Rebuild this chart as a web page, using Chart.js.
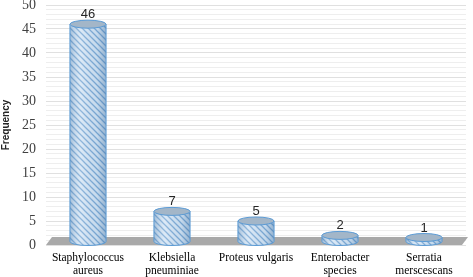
<!DOCTYPE html>
<html>
<head>
<meta charset="utf-8">
<script src="https://cdn.jsdelivr.net/npm/chart.js@4.4.1/dist/chart.umd.min.js"></script>
<style>
  html, body { margin: 0; padding: 0; background: #fff; }
  #wrap { width: 473px; height: 277px; }
</style>
</head>
<body>
<div id="wrap"><canvas id="bacteriaChart" width="473" height="277"></canvas></div>
<script>
  // 分離菌の頻度
  const categories = [
    ['Staphylococcus', 'aureus'],
    ['Klebsiella', 'pneuminiae'],
    ['Proteus vulgaris'],
    ['Enterobacter', 'species'],
    ['Serratia', 'merscescans']
  ];
  const frequency = [46, 7, 5, 2, 1];
  const yTicks = [0, 5, 10, 15, 20, 25, 30, 35, 40, 45, 50];

  // 斜線パターン
  function makeHatch() {
    const c = document.createElement('canvas');
    c.width = 6; c.height = 6;
    const g = c.getContext('2d');
    g.fillStyle = '#d6e6f5';
    g.fillRect(0, 0, 6, 6);
    g.strokeStyle = '#7eabd6';
    g.lineWidth = 1.3;
    g.beginPath();
    g.moveTo(0, 0); g.lineTo(6, 6);
    g.moveTo(-3, 3); g.lineTo(3, 9);
    g.moveTo(3, -3); g.lineTo(9, 3);
    g.stroke();
    return g.createPattern(c, 'repeat');
  }
  const hatch = makeHatch();
  const ry = 4; // 楕円の縦半径

  // 床面
  const floorPlugin = {
    id: 'floor',
    beforeDatasetsDraw(chart) {
      const ctx = chart.ctx;
      const a = chart.chartArea;
      const y0 = chart.scales.y.getPixelForValue(0);
      ctx.save();
      ctx.fillStyle = '#a9a9a9';
      ctx.beginPath();
      ctx.moveTo(a.left + 6, y0 - 8);
      ctx.lineTo(a.right + 2, y0 - 8);
      ctx.lineTo(a.right - 4, y0);
      ctx.lineTo(a.left, y0);
      ctx.closePath();
      ctx.fill();
      ctx.restore();
    }
  };

  // 円柱
  const cylinderPlugin = {
    id: 'cylinder',
    afterDatasetsDraw(chart) {
      const ctx = chart.ctx;
      const meta = chart.getDatasetMeta(0);
      meta.data.forEach((bar, i) => {
        const x = bar.x, base = bar.base - 3;
        const top = Math.min(bar.y, base - 4);
        const w = bar.width, rx = w / 2;
        ctx.save();
        // 胴体
        ctx.beginPath();
        ctx.moveTo(x - rx, top);
        ctx.lineTo(x - rx, base);
        ctx.ellipse(x, base, rx, ry, 0, Math.PI, 0, true);
        ctx.lineTo(x + rx, top);
        ctx.closePath();
        ctx.fillStyle = hatch;
        ctx.fill();
        const grad = ctx.createLinearGradient(x - rx, 0, x + rx, 0);
        grad.addColorStop(0, 'rgba(60,110,160,0.35)');
        grad.addColorStop(0.3, 'rgba(255,255,255,0.15)');
        grad.addColorStop(0.75, 'rgba(60,110,160,0.1)');
        grad.addColorStop(1, 'rgba(50,100,150,0.4)');
        ctx.fillStyle = grad;
        ctx.fill();
        ctx.strokeStyle = '#5b9bd5';
        ctx.lineWidth = 1;
        ctx.stroke();
        // 上面
        ctx.beginPath();
        ctx.ellipse(x, top, rx, ry, 0, 0, Math.PI * 2);
        ctx.fillStyle = '#a3b6c8';
        ctx.fill();
        ctx.strokeStyle = '#5b9bd5';
        ctx.stroke();
        // 値ラベル
        ctx.fillStyle = '#262626';
        ctx.font = '13px "Liberation Sans", Arial, sans-serif';
        ctx.textAlign = 'center';
        ctx.textBaseline = 'bottom';
        ctx.fillText(String(frequency[i]), x, top - ry + 1);
        ctx.restore();
      });
    }
  };

  const serif = '"Times New Roman", "Liberation Serif", "DejaVu Serif", serif';

  const ctx = document.getElementById('bacteriaChart').getContext('2d');
  const bacteriaChart = new Chart(ctx, {
    type: 'bar',
    data: {
      labels: categories,
      datasets: [{
        label: 'Frequency',
        data: frequency,
        backgroundColor: 'rgba(0,0,0,0)',
        borderWidth: 0,
        barPercentage: 0.43,
        categoryPercentage: 1
      }]
    },
    options: {
      responsive: false,
      animation: false,
      layout: { padding: { top: 5, right: 7, left: 0, bottom: 0 } },
      plugins: {
        legend: { display: false },
        tooltip: { enabled: false }
      },
      scales: {
        x: {
          grid: { display: false },
          border: { display: false },
          ticks: {
            color: '#000',
            font: { family: serif, size: 11.5, lineHeight: 1.15 },
            maxRotation: 0,
            autoSkip: false,
            padding: -2
          },
          afterFit(s) { s.height = 32; s.paddingLeft = 0; s.paddingRight = 0; }
        },
        y: {
          min: 0,
          max: 50,
          afterBuildTicks(s) {
            // 1刻みの目盛線（薄い）
            const t = [];
            for (let v = 0; v <= 50; v++) t.push({ value: v });
            s.ticks = t;
          },
          grid: {
            color(c) { return c.tick && c.tick.value % 5 === 0 ? '#e0e0e0' : '#eeeeee'; },
            drawTicks: false
          },
          border: { display: false },
          ticks: {
            color: '#404040',
            font: { family: serif, size: 14 },
            padding: 10,
            callback(v) { return yTicks.includes(v) ? v : ''; },
            autoSkip: false
          },
          title: {
            display: true,
            text: 'Frequency',
            color: '#262626',
            font: { family: 'Liberation Sans', size: 10, weight: 'bold' },
            padding: 0
          },
          afterFit(s) { s.width = 46; s.paddingTop = 0; s.paddingBottom = 0; }
        }
      }
    },
    plugins: [floorPlugin, cylinderPlugin]
  });
</script>
</body>
</html>
